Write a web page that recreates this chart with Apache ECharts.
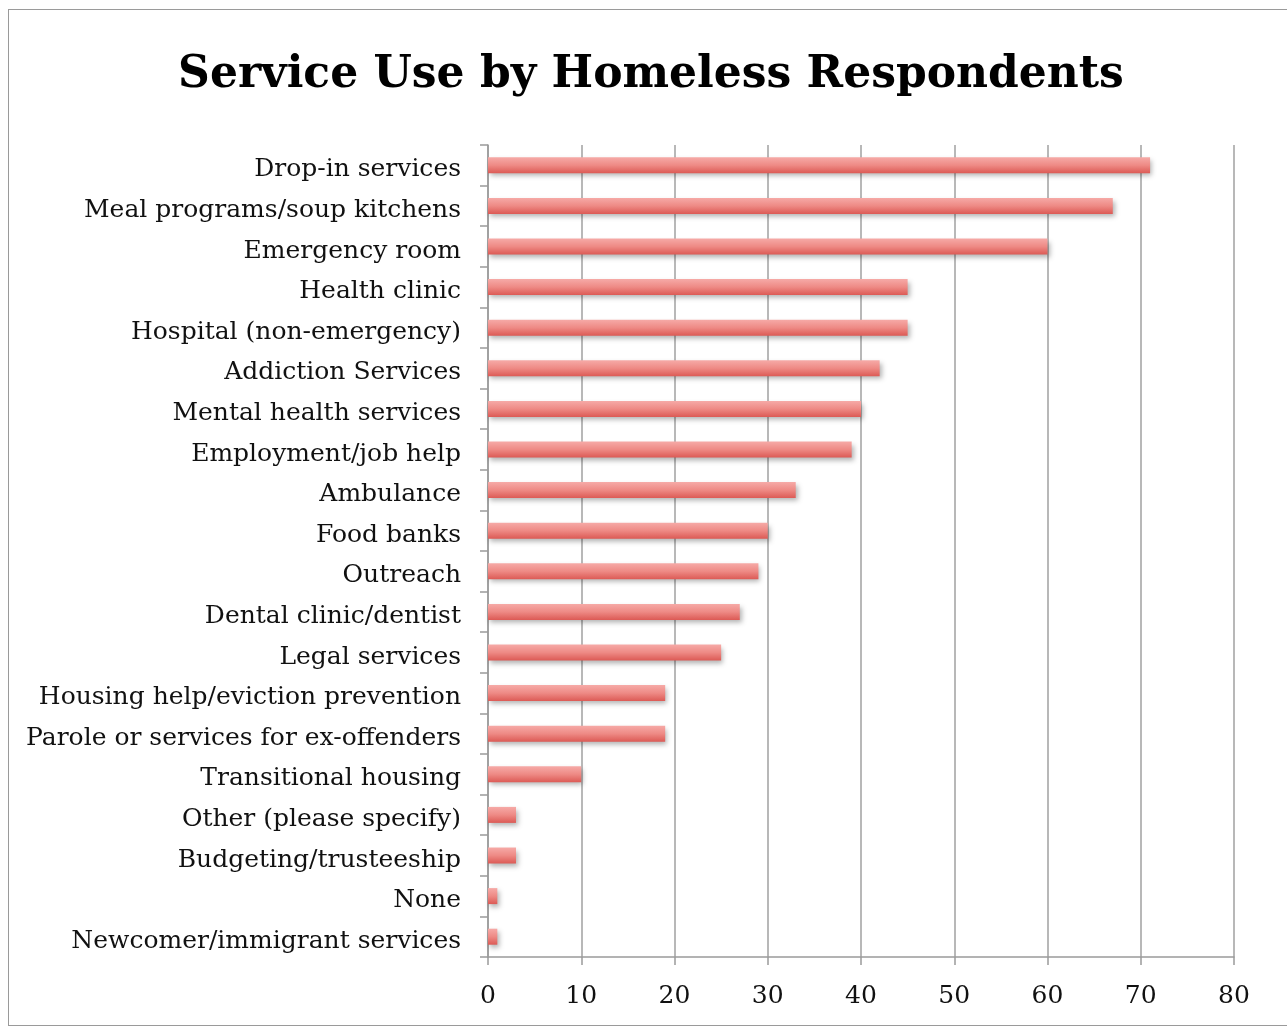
<!DOCTYPE html>
<html>
<head>
<meta charset="utf-8">
<script src="https://cdn.jsdelivr.net/npm/echarts@6/dist/echarts.min.js"></script>
<style>
  html, body { margin: 0; padding: 0; background: #fff; }
  #frame { position: absolute; left: 8px; top: 9px; width: 1290px; height: 1017px; border: 1.5px solid #9a9a9a; box-sizing: border-box; }
  #chart { position: absolute; left: 0; top: 0; width: 1287px; height: 1030px; }
</style>
</head>
<body>
<div id="frame"></div>
<div id="chart"></div>
<script>
// Services, listed top to bottom
const services = [
  'Drop-in services',
  'Meal programs/soup kitchens',
  'Emergency room',
  'Health clinic',
  'Hospital (non-emergency)',
  'Addiction Services',
  'Mental health services',
  'Employment/job help',
  'Ambulance',
  'Food banks',
  'Outreach',
  'Dental clinic/dentist',
  'Legal services',
  'Housing help/eviction prevention',
  'Parole or services for ex-offenders',
  'Transitional housing',
  'Other (please specify)',
  'Budgeting/trusteeship',
  'None',
  'Newcomer/immigrant services'
];
// Respondents using each service
const respondents = [71, 67, 60, 45, 45, 42, 40, 39, 33, 30, 29, 27, 25, 19, 19, 10, 3, 3, 1, 1];
const xTicks = [0, 10, 20, 30, 40, 50, 60, 70, 80];

const FONT = '"DejaVu Serif", serif';
const chart = echarts.init(document.getElementById('chart'));

chart.setOption({
  animation: false,
  title: {
    text: 'Service Use by Homeless Respondents',
    left: 646, top: 49, textAlign: 'center',
    textStyle: { fontFamily: FONT, fontWeight: 'bold', fontSize: 44, color: '#000' }
  },
  grid: { left: 488, right: 53, top: 145, bottom: 73, containLabel: false },
  xAxis: {
    type: 'value', min: xTicks[0], max: xTicks[xTicks.length - 1], interval: 10,
    axisLine: { show: true, lineStyle: { color: '#9a9a9a', width: 1.5 } },
    axisTick: { show: true, length: 8, lineStyle: { color: '#9a9a9a', width: 1.5 } },
    axisLabel: { fontFamily: FONT, fontSize: 25, color: '#111', margin: 27 },
    splitLine: { show: true, lineStyle: { color: '#a0a0a0', width: 1.5 } }
  },
  yAxis: {
    type: 'category', inverse: true, data: services,
    axisLine: { show: true, lineStyle: { color: '#9a9a9a', width: 1.5 } },
    axisTick: { show: true, length: 8, lineStyle: { color: '#9a9a9a', width: 1.5 } },
    axisLabel: {
      margin: 27,
      formatter: (name) => '{n|' + name + '}',
      rich: { n: { fontFamily: FONT, fontSize: 25, color: '#111', padding: [9, 0, 0, 0] } }
    }
  },
  series: [{
    type: 'bar',
    data: respondents,
    barWidth: 16,
    itemStyle: {
      color: new echarts.graphic.LinearGradient(0, 0, 0, 1, [
        { offset: 0, color: '#f6aaa7' },
        { offset: 0.5, color: '#ee8a85' },
        { offset: 1, color: '#dc5a55' }
      ]),
      shadowColor: 'rgba(0,0,0,0.3)',
      shadowBlur: 5,
      shadowOffsetX: 2,
      shadowOffsetY: 3
    }
  }]
});
</script>
</body>
</html>
